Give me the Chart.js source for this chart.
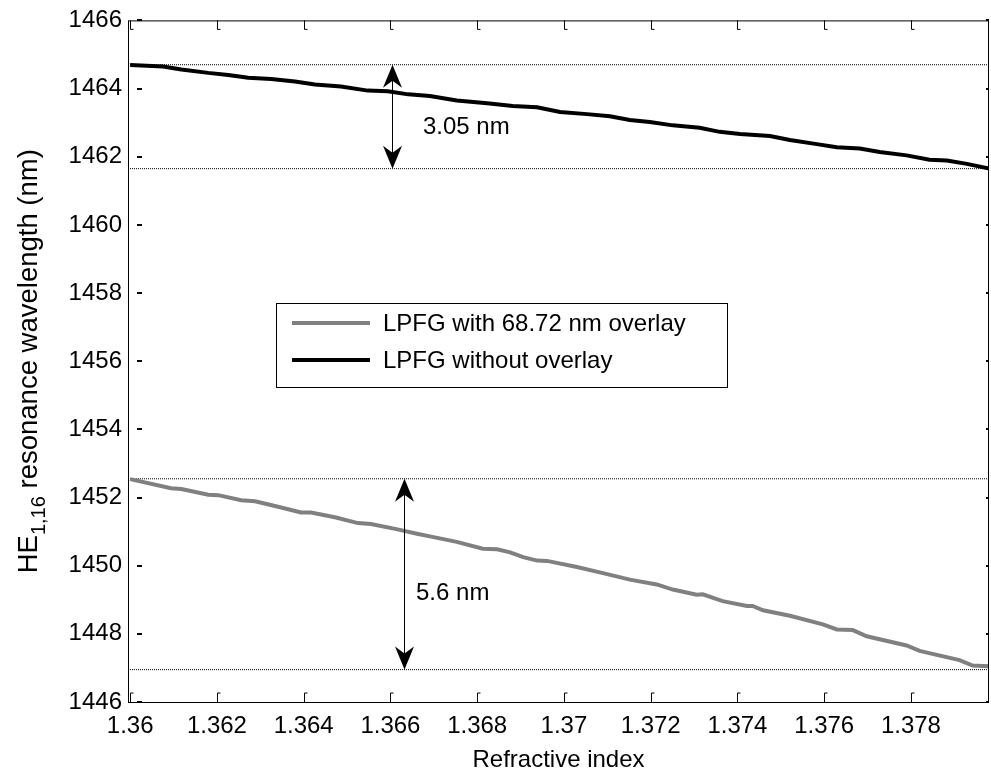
<!DOCTYPE html>
<html>
<head>
<meta charset="utf-8">
<script src="https://cdn.jsdelivr.net/npm/chart.js@4.4.1/dist/chart.umd.min.js"></script>
<style>
    html, body { margin: 0; padding: 0; background: #fff; }
    #wrap { width: 991px; height: 779px; }
</style>
</head>
<body>
<div id="wrap"><canvas id="grafico" width="991" height="779"></canvas></div>
<script>
var xTicks = [1.36, 1.362, 1.364, 1.366, 1.368, 1.37, 1.372, 1.374, 1.376, 1.378];
var yTicks = [1446, 1448, 1450, 1452, 1454, 1456, 1458, 1460, 1462, 1464, 1466];

// LPFG without overlay (black)
var semX = [1.36, 1.36076, 1.36118, 1.36180, 1.36226, 1.36272, 1.36325, 1.36380, 1.36426, 1.36486,
            1.36548, 1.36594, 1.36641, 1.36691, 1.36753, 1.36823, 1.36882, 1.36938, 1.36991, 1.37053,
            1.37106, 1.37152, 1.37198, 1.37251, 1.37313, 1.37359, 1.37406, 1.37475, 1.37521, 1.37583,
            1.37629, 1.37682, 1.37728, 1.37790, 1.37843, 1.37883, 1.37929, 1.37982];
var semY = [1464.69, 1464.65, 1464.56, 1464.46, 1464.40, 1464.32, 1464.28, 1464.21, 1464.12, 1464.06,
            1463.94, 1463.92, 1463.83, 1463.78, 1463.65, 1463.57, 1463.49, 1463.45, 1463.31, 1463.25,
            1463.19, 1463.08, 1463.02, 1462.92, 1462.85, 1462.73, 1462.67, 1462.61, 1462.49, 1462.37,
            1462.28, 1462.24, 1462.14, 1462.04, 1461.91, 1461.89, 1461.79, 1461.65];

// LPFG with 68.72 nm overlay (grey)
var comX = [1.36, 1.36094, 1.36118, 1.36180, 1.36203, 1.36256, 1.36288, 1.36341, 1.36394, 1.36417,
            1.36472, 1.36525, 1.36555, 1.36611, 1.36664, 1.36691, 1.36753, 1.36813, 1.36846, 1.36876,
            1.36906, 1.36938, 1.36961, 1.37030, 1.37090, 1.37152, 1.37214, 1.37251, 1.37306, 1.37320,
            1.37366, 1.37422, 1.37435, 1.37459, 1.37521, 1.37597, 1.37629, 1.37666, 1.37698, 1.37790,
            1.37820, 1.37912, 1.37942, 1.37982];
var comY = [1452.54, 1452.27, 1452.25, 1452.08, 1452.07, 1451.92, 1451.89, 1451.73, 1451.56, 1451.56,
            1451.42, 1451.25, 1451.22, 1451.08, 1450.93, 1450.86, 1450.70, 1450.50, 1450.48, 1450.39,
            1450.25, 1450.15, 1450.14, 1449.96, 1449.78, 1449.59, 1449.45, 1449.30, 1449.15, 1449.16,
            1448.96, 1448.82, 1448.82, 1448.69, 1448.53, 1448.28, 1448.13, 1448.11, 1447.93, 1447.66,
            1447.50, 1447.23, 1447.07, 1447.05];

// reference levels (dotted lines) and arrows
var nivelSem = [1464.70, 1461.65];
var nivelCom = [1452.55, 1446.95];
var rotulos = ['LPFG with 68.72 nm overlay', 'LPFG without overlay'];
var cores = ['#808080', '#000000'];

var xMin = 1.35995, xMax = 1.3798;
var familia = '"Liberation Sans", Arial, sans-serif';
var fonte = '24px ' + familia;

var montarPontos = function (xs, ys) {
    return xs.map(function (x, i) { return { x: x, y: ys[i] }; });
};

var linhaNivel = function (y) {
    return {
        data: [{ x: xMin, y: y }, { x: xMax, y: y }],
        borderColor: '#000',
        borderWidth: 1,
        borderDash: [1, 1],
        pointRadius: 0,
        order: 2
    };
};

var seta = function (ctx, x, yPonta, dir) {
    // MATLAB vback2 style head, dir = +1 points up
    ctx.beginPath();
    ctx.moveTo(x, yPonta);
    ctx.lineTo(x - 9.5, yPonta + dir * 23);
    ctx.lineTo(x, yPonta + dir * 16);
    ctx.lineTo(x + 9.5, yPonta + dir * 23);
    ctx.closePath();
    ctx.fill();
};

var decoracao = {
    id: 'decoracao',
    afterDraw: function (chart) {
        var ctx = chart.ctx, a = chart.chartArea;
        var sx = chart.scales.x, sy = chart.scales.y;
        ctx.save();
        ctx.fillStyle = '#000';
        ctx.strokeStyle = '#000';

        // axes box
        ctx.lineWidth = 1;
        ctx.strokeRect(a.left + 0.5, a.top + 0.5, a.right - a.left - 1, a.bottom - a.top);

        // inward ticks
        xTicks.forEach(function (v) {
            var px = Math.round(sx.getPixelForValue(v)) + 0.5;
            ctx.beginPath();
            ctx.moveTo(px, a.bottom); ctx.lineTo(px, a.bottom - 9); ctx.lineTo(px + 3, a.bottom - 9);
            ctx.moveTo(px, a.top); ctx.lineTo(px, a.top + 9); ctx.lineTo(px + 3, a.top + 9);
            ctx.stroke();
        });
        yTicks.forEach(function (v) {
            var py = Math.round(sy.getPixelForValue(v));
            ctx.fillRect(a.left + 9, py - 1, 5, 2);
            ctx.fillRect(a.right - 3, py - 1, 3, 2);
        });

        // arrows
        var arrows = [
            { x: 1.36604, y0: nivelSem[0], y1: nivelSem[1] },
            { x: 1.36631, y0: nivelCom[0], y1: nivelCom[1] }
        ];
        arrows.forEach(function (s) {
            var px = Math.round(sx.getPixelForValue(s.x)) + 0.5;
            var pTop = sy.getPixelForValue(s.y0), pBot = sy.getPixelForValue(s.y1);
            ctx.lineWidth = 1;
            ctx.beginPath(); ctx.moveTo(px, pTop + 10); ctx.lineTo(px, pBot - 10); ctx.stroke();
            seta(ctx, px, pTop, 1);
            seta(ctx, px, pBot, -1);
        });

        // annotation texts
        ctx.font = fonte;
        ctx.textAlign = 'left';
        ctx.textBaseline = 'middle';
        ctx.fillText('3.05 nm', sx.getPixelForValue(1.36675), sy.getPixelForValue(1462.87));
        ctx.fillText('5.6 nm', sx.getPixelForValue(1.36659), sy.getPixelForValue(1449.19));

        // legend
        ctx.fillStyle = '#fff';
        ctx.fillRect(276, 303, 451, 84);
        ctx.strokeRect(276.5, 303.5, 451, 84);
        ctx.lineWidth = 4;
        rotulos.forEach(function (r, i) {
            var y = 323 + i * 37;
            ctx.strokeStyle = cores[i];
            ctx.beginPath(); ctx.moveTo(292, y); ctx.lineTo(370, y); ctx.stroke();
            ctx.fillStyle = '#000';
            ctx.fillText(r, 383, y + 1);
        });

        // axis titles
        ctx.textAlign = 'center';
        ctx.textBaseline = 'alphabetic';
        ctx.fillText('Refractive index', (a.left + a.right) / 2, 767);

        ctx.translate(37, (a.top + a.bottom) / 2);
        ctx.rotate(-Math.PI / 2);
        ctx.textAlign = 'left';
        var fonteTit = '27.5px ' + familia;
        var fonteSub = '20px ' + familia;
        ctx.font = fonteTit;
        var w1 = ctx.measureText('HE').width;
        var w3 = ctx.measureText(' resonance wavelength (nm)').width;
        ctx.font = fonteSub;
        var w2 = ctx.measureText('1,16').width;
        var x0 = -(w1 + w2 + w3) / 2;
        ctx.font = fonteTit;
        ctx.fillText('HE', x0, 0);
        ctx.font = fonteSub;
        ctx.fillText('1,16', x0 + w1, 8);
        ctx.font = fonteTit;
        ctx.fillText(' resonance wavelength (nm)', x0 + w1 + w2, 0);
        ctx.restore();
    }
};

var formatarX = function (v) {
    return Number(v.toFixed(3)).toString();
};

var formatarY = function (v) {
    return String(v);
};

var grafico = new Chart(document.getElementById('grafico').getContext('2d'), {
    type: 'line',
    data: {
        datasets: [
            { data: montarPontos(semX, semY), borderColor: cores[1], borderWidth: 4, pointRadius: 0, tension: 0, order: 0 },
            { data: montarPontos(comX, comY), borderColor: cores[0], borderWidth: 4, pointRadius: 0, tension: 0, order: 1 },
            linhaNivel(nivelSem[0]), linhaNivel(nivelSem[1]),
            linhaNivel(nivelCom[0]), linhaNivel(nivelCom[1])
        ]
    },
    options: {
        responsive: false,
        animation: false,
        events: [],
        layout: { padding: { top: 18, right: 2, left: 0, bottom: 0 } },
        plugins: { legend: { display: false }, tooltip: { enabled: false } },
        scales: {
            x: {
                type: 'linear',
                min: xMin,
                max: xMax,
                afterBuildTicks: function (s) { s.ticks = xTicks.map(function (v) { return { value: v }; }); },
                afterFit: function (s) { s.height = 77; },
                grid: { display: false, drawTicks: false },
                border: { display: false },
                ticks: {
                    color: '#000',
                    font: { family: familia, size: 24 },
                    padding: 10,
                    maxRotation: 0,
                    autoSkip: false,
                    callback: formatarX
                }
            },
            y: {
                type: 'linear',
                min: 1446,
                max: 1466,
                afterBuildTicks: function (s) { s.ticks = yTicks.map(function (v) { return { value: v }; }); },
                afterFit: function (s) { s.width = 128; },
                grid: { display: false, drawTicks: false },
                border: { display: false },
                ticks: {
                    color: '#000',
                    font: { family: familia, size: 24 },
                    padding: 6,
                    autoSkip: false,
                    callback: formatarY
                }
            }
        }
    },
    plugins: [decoracao]
});
</script>
</body>
</html>
